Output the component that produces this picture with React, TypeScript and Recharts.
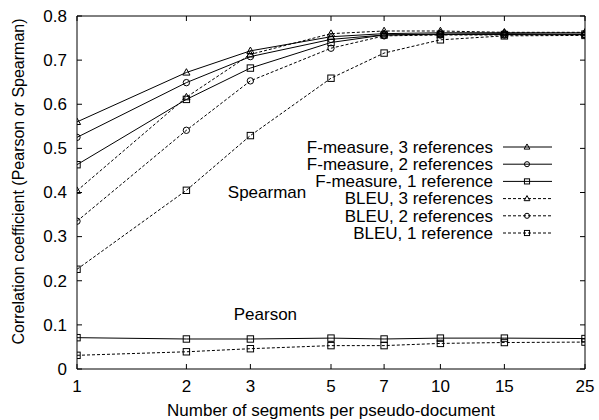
import React from 'react';
import { LineChart, Line, XAxis, YAxis, ReferenceArea, ReferenceDot, Customized } from 'recharts';

const segments = [1, 2, 3, 5, 7, 10, 15, 25];
const xTicks = [1, 2, 3, 5, 7, 10, 15, 25];
const yTicks = [0, 0.1, 0.2, 0.3, 0.4, 0.5, 0.6, 0.7, 0.8];

const fmeasure3 = [0.56, 0.672, 0.721, 0.753, 0.76, 0.762, 0.762, 0.762];
const fmeasure2 = [0.525, 0.649, 0.708, 0.747, 0.757, 0.759, 0.76, 0.758];
const fmeasure1 = [0.463, 0.611, 0.682, 0.74, 0.757, 0.758, 0.758, 0.759];
const bleu3 = [0.404, 0.616, 0.713, 0.76, 0.766, 0.766, 0.763, 0.763];
const bleu2 = [0.335, 0.541, 0.653, 0.727, 0.755, 0.757, 0.757, 0.757];
const bleu1 = [0.226, 0.405, 0.529, 0.659, 0.716, 0.746, 0.755, 0.756];
const pearsonF = [0.071, 0.068, 0.068, 0.07, 0.068, 0.07, 0.07, 0.069];
const pearsonB = [0.031, 0.039, 0.046, 0.053, 0.053, 0.058, 0.06, 0.061];

const legendNames = [
  'F-measure, 3 references',
  'F-measure, 2 references',
  'F-measure, 1 reference',
  'BLEU, 3 references',
  'BLEU, 2 references',
  'BLEU, 1 reference',
];

const data = segments.map((s, i) => ({
  x: s,
  f3: fmeasure3[i],
  f2: fmeasure2[i],
  f1: fmeasure1[i],
  b3: bleu3[i],
  b2: bleu2[i],
  b1: bleu1[i],
  pf: pearsonF[i],
  pb: pearsonB[i],
}));

type Shape = 'triangle' | 'circle' | 'square';
const series: { key: string; dashed: boolean; shape: Shape; legend: number }[] = [
  { key: 'f3', dashed: false, shape: 'triangle', legend: 0 },
  { key: 'f2', dashed: false, shape: 'circle', legend: 1 },
  { key: 'f1', dashed: false, shape: 'square', legend: 2 },
  { key: 'b3', dashed: true, shape: 'triangle', legend: 3 },
  { key: 'b2', dashed: true, shape: 'circle', legend: 4 },
  { key: 'b1', dashed: true, shape: 'square', legend: 5 },
  { key: 'pf', dashed: false, shape: 'square', legend: -1 },
  { key: 'pb', dashed: true, shape: 'square', legend: -1 },
];

const W = 599;
const H = 420;
const PLOT_TOP = 16;
const PLOT_LEFT = 77;
const PLOT_RIGHT = 585;
const PLOT_BOTTOM = 369;
const FONT = '"Liberation Sans", Arial, Helvetica, sans-serif';
const FS = 17;
const DASH = '3 2';

function Marker({ shape, cx, cy, s = 1 }: { shape: Shape; cx: number; cy: number; s?: number }) {
  if (cx == null || cy == null) return null;
  if (shape === 'triangle') {
    return (
      <polygon
        points={`${cx},${cy - 3.8 * s} ${cx - 3.6 * s},${cy + 2.6 * s} ${cx + 3.6 * s},${cy + 2.6 * s}`}
        fill="none"
        stroke="#000"
        strokeWidth={1}
      />
    );
  }
  if (shape === 'circle') {
    return <circle cx={cx} cy={cy} r={3.2 * s} fill="none" stroke="#000" strokeWidth={1} />;
  }
  return (
    <rect x={cx - 3.2 * s} y={cy - 3.2 * s} width={6.4 * s} height={6.4 * s} fill="none" stroke="#000" strokeWidth={1} />
  );
}

const XTick = (props: any) => {
  const { x, y, payload } = props;
  return (
    <g>
      <line x1={x} y1={y} x2={x} y2={y - 5} stroke="#000" strokeWidth={1} />
      <line x1={x} y1={PLOT_TOP} x2={x} y2={PLOT_TOP + 5} stroke="#000" strokeWidth={1} />
      <text x={x} y={y + 23} textAnchor="middle" fontFamily={FONT} fontSize={FS} fill="#000">
        {payload.value}
      </text>
    </g>
  );
};

const YTick = (props: any) => {
  const { x, y, payload } = props;
  return (
    <g>
      <line x1={x} y1={y} x2={x + 5} y2={y} stroke="#000" strokeWidth={1} />
      <line x1={PLOT_RIGHT} y1={y} x2={PLOT_RIGHT - 5} y2={y} stroke="#000" strokeWidth={1} />
      <text x={x - 10} y={y + 5.8} textAnchor="end" fontFamily={FONT} fontSize={FS} fill="#000">
        {String(payload.value)}
      </text>
    </g>
  );
};

const LegendBox = () => {
  const rows = series.filter((s) => s.legend >= 0);
  return (
    <g>
      {rows.map((s, i) => {
        const y = 147 + i * 17.2;
        return (
          <g key={s.key}>
            <text x={493} y={y + 5.8} textAnchor="end" fontFamily={FONT} fontSize={FS} fill="#000">
              {legendNames[s.legend]}
            </text>
            <line
              x1={503}
              x2={552}
              y1={y}
              y2={y}
              stroke="#000"
              strokeWidth={1}
              strokeDasharray={s.dashed ? DASH : undefined}
            />
            <Marker shape={s.shape} cx={527} cy={y} s={0.8} />
          </g>
        );
      })}
    </g>
  );
};

const AxisTitles = () => (
  <g>
    <text
      x={(PLOT_LEFT + PLOT_RIGHT) / 2}
      y={416}
      textAnchor="middle"
      fontFamily={FONT}
      fontSize={FS}
      fill="#000"
    >
      Number of segments per pseudo-document
    </text>
    <text
      transform={`translate(24, ${(PLOT_TOP + PLOT_BOTTOM) / 2 - 11}) rotate(-90)`}
      textAnchor="middle"
      fontFamily={FONT}
      fontSize={16}
      fill="#000"
    >
      Correlation coefficient (Pearson or Spearman)
    </text>
  </g>
);

const annotation = (text: string) => (props: any) => {
  const vb = props.viewBox || {};
  return (
    <text x={vb.x} y={vb.y + 5.8} textAnchor="start" fontFamily={FONT} fontSize={FS} fill="#000">
      {text}
    </text>
  );
};

export default function App() {
  return (
    <div style={{ position: 'absolute', left: 0, top: 0, width: W, height: H, background: '#fff' }}>
      <LineChart
        width={W}
        height={H}
        data={data}
        margin={{ top: PLOT_TOP, right: W - PLOT_RIGHT, bottom: 0, left: 0 }}
      >
        <XAxis
          dataKey="x"
          type="number"
          scale="log"
          domain={[1, 25]}
          ticks={xTicks}
          interval={0}
          allowDataOverflow
          height={H - PLOT_BOTTOM}
          axisLine={false}
          tickLine={false}
          tickSize={0}
          tickMargin={0}
          tick={XTick}
        />
        <YAxis
          type="number"
          domain={[0, 0.8]}
          ticks={yTicks}
          interval={0}
          width={PLOT_LEFT}
          axisLine={false}
          tickLine={false}
          tickSize={0}
          tickMargin={0}
          tick={YTick}
        />
        <ReferenceArea x1={1} x2={25} y1={0} y2={0.8} fill="none" stroke="#000" strokeWidth={1} fillOpacity={0} />
        {series.map((s) => (
          <Line
            key={s.key}
            dataKey={s.key}
            type="linear"
            stroke="#000"
            strokeWidth={1}
            strokeDasharray={s.dashed ? DASH : undefined}
            isAnimationActive={false}
            dot={(p: any) => <Marker key={`${s.key}-${p.index}`} shape={s.shape} cx={p.cx} cy={p.cy} />}
            activeDot={false}
          />
        ))}
        <ReferenceDot x={2.6} y={0.4} r={0} fill="none" stroke="none" label={annotation('Spearman')} />
        <ReferenceDot x={2.7} y={0.125} r={0} fill="none" stroke="none" label={annotation('Pearson')} />
        <Customized component={LegendBox} />
        <Customized component={AxisTitles} />
      </LineChart>
    </div>
  );
}
